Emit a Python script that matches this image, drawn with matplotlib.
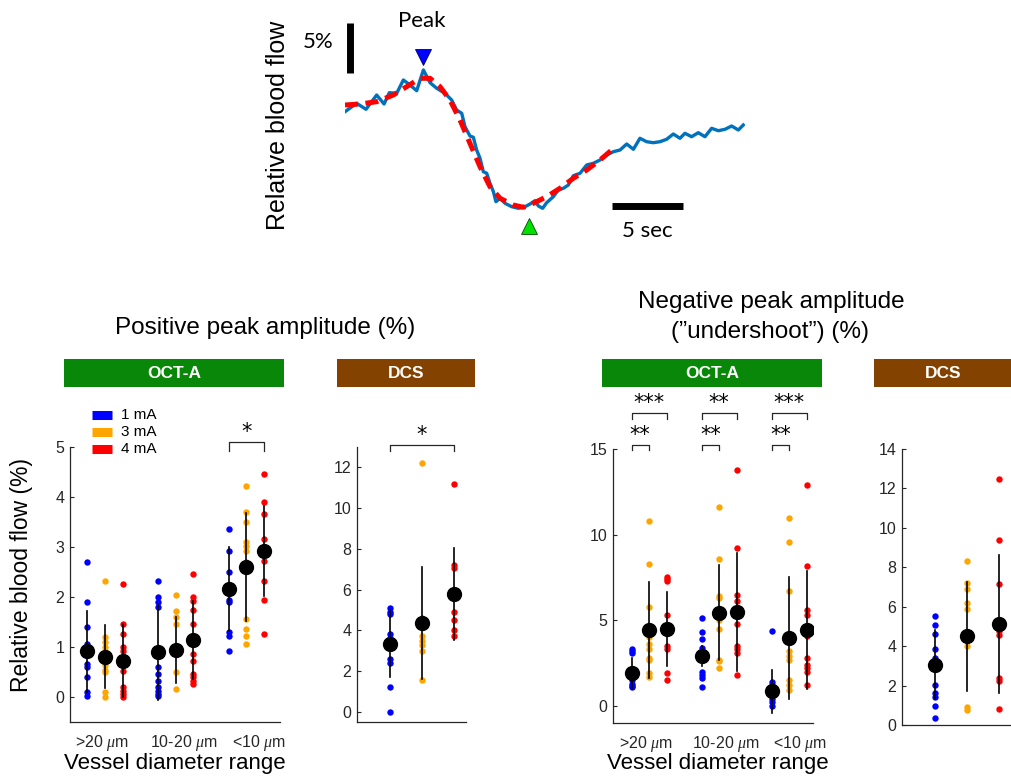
import numpy as np
import matplotlib
matplotlib.use("Agg")
import matplotlib.pyplot as plt
from matplotlib.patches import Rectangle
from matplotlib.lines import Line2D

# ------------------------------------------
# Data
# ------------------------------------------
# example time course (sec, % change)
trace_t = [0, 0.82, 1.48, 2.23, 2.75, 3.12, 3.64, 4.11, 4.58, 5.05, 5.52, 5.99, 6.46, 7.04,
           7.51, 7.86, 8.22, 8.45, 8.80, 9.04, 9.27, 9.51, 9.74, 9.98, 10.21, 10.45, 10.63,
           10.92, 11.27, 11.74, 12.21, 12.68, 13.03, 13.38, 13.62, 13.92, 14.20, 14.67, 15.02,
           15.38, 15.73, 16.08, 16.55, 17.02, 17.49, 17.96, 18.43, 18.90, 19.37, 19.84, 20.31,
           20.77, 21.24, 21.71, 22.18, 22.65, 23.12, 23.59, 23.94, 24.41, 24.88, 25.35, 25.82,
           26.29, 26.76, 27.23, 27.70, 28.05]
trace_flow = [-0.67, 0.17, -0.43, 1.0, 0.1, 1.23, 1.17, 2.5, 2.0, 1.43, 3.5, 2.23, 1.67, 1.17,
              0.5, -0.5, -0.83, -2.17, -3.1, -3.23, -4.5, -5.33, -6.67, -6.83, -7.83, -8.67, -9.67,
              -9.33, -9.83, -10.17, -10.33, -10.17, -9.9, -9.57, -10.1, -10.33, -9.77, -9.17, -8.5,
              -8.33, -8.0, -7.07, -6.83, -6.0, -5.83, -5.5, -5.0, -4.67, -4.5, -3.9, -4.43,
              -3.33, -3.67, -3.77, -3.67, -3.43, -2.9, -3.33, -2.83, -3.17, -2.77, -3.17, -2.33,
              -2.57, -2.43, -2.1, -2.5, -2.0]
fit_t = [0, 1.06, 2.23, 3.40, 4.34, 5.28, 5.99, 6.69, 7.39, 8.10, 8.80, 9.51, 10.21, 10.92,
         11.85, 12.56, 13.26, 14.20, 15.14, 16.08, 17.02, 17.96, 18.78]
fit_flow = [0, 0.1, 0.33, 1.0, 1.83, 2.67, 2.67, 1.83, 0.5, -1.5, -3.83, -6.17, -8.17, -9.33,
            -10.0, -10.23, -9.83, -9.17, -8.33, -7.33, -6.5, -5.5, -4.5]

currents = ["1 mA", "3 mA", "4 mA"]
colors = ["#0000FF", "#FFA500", "#FF0000"]
vessel_labels = [">20 $\\mu$m", "10-20 $\\mu$m", "<10 $\\mu$m"]

# positive peak, OCT-A: [current][vessel group]
pos_octa_pts = [
    [[2.7, 1.9, 1.4, 1.07, 1.0, 0.67, 0.6, 0.4, 0.1, 0.02],
     [2.33, 2.0, 1.9, 1.8, 0.6, 0.47, 0.33, 0.2, 0.13, 0.07, 0.02],
     [3.37, 2.93, 2.5, 1.95, 1.9, 1.3, 1.23, 0.93]],
    [[2.33, 1.2, 1.1, 1.0, 0.93, 0.65, 0.55, 0.5, 0.1, 0.0],
     [2.05, 1.73, 1.6, 1.47, 0.95, 0.5, 0.17],
     [4.23, 3.7, 3.5, 3.1, 3.03, 2.93, 2.7, 1.57, 1.37, 1.23, 1.07]],
    [[2.27, 1.47, 1.27, 1.0, 0.93, 0.53, 0.2, 0.13, 0.07, 0.0],
     [2.47, 2.0, 1.93, 1.75, 1.47, 0.87, 0.73, 0.47, 0.4, 0.33, 0.27],
     [4.47, 3.9, 3.67, 3.17, 2.93, 2.73, 2.33, 1.95, 1.27]],
]
pos_octa_mean = [[0.92, 0.9, 2.17], [0.81, 0.95, 2.6], [0.73, 1.15, 2.93]]
pos_octa_sd = [[0.81, 0.95, 0.84], [0.63, 0.66, 1.08], [0.73, 0.78, 0.9]]

# positive peak, DCS: [current]
pos_dcs_pts = [[5.1, 4.9, 4.8, 3.8, 3.6, 2.6, 2.4, 1.2, 0.0],
               [12.2, 4.6, 3.7, 3.5, 3.3, 3.0, 1.55],
               [11.2, 7.2, 7.05, 4.9, 4.5, 4.0, 3.7]]
pos_dcs_mean = [3.35, 4.35, 5.8]
pos_dcs_sd = [1.65, 2.75, 2.25]

# negative peak (undershoot), OCT-A: [current][vessel group]
neg_octa_pts = [
    [[3.3, 3.2, 3.1, 1.5, 1.3, 1.15, 1.1],
     [5.15, 4.3, 3.9, 3.4, 2.0, 1.8, 1.6, 1.1],
     [4.4, 1.4, 1.2, 0.9, 0.6, 0.4, 0.2, 0.0]],
    [[10.8, 8.3, 5.8, 4.0, 3.6, 3.3, 2.8, 2.7, 1.9, 1.7],
     [11.6, 8.6, 6.4, 6.3, 5.0, 4.5, 2.7, 2.6, 2.2],
     [11.0, 9.55, 6.7, 3.2, 2.9, 2.7, 1.5, 1.2, 0.9]],
    [[7.5, 7.4, 7.3, 5.3, 3.5, 3.3, 1.9, 1.5],
     [13.8, 9.2, 6.45, 6.1, 4.8, 3.5, 3.3, 3.1, 1.8],
     [12.9, 8.15, 5.6, 5.3, 4.1, 2.8, 2.4, 2.2, 2.0, 1.2]],
]
neg_octa_mean = [[1.9, 2.9, 0.85], [4.45, 5.45, 3.95], [4.5, 5.5, 4.45]]
neg_octa_sd = [[0.9, 0.6, 1.25], [2.8, 2.8, 3.55], [2.15, 3.45, 3.45]]

# negative peak, DCS: [current]
neg_dcs_pts = [[5.55, 5.05, 4.6, 3.85, 3.4, 2.05, 1.6, 1.4, 0.95, 0.35],
               [8.3, 7.2, 6.9, 6.2, 5.9, 4.0, 0.9, 0.75],
               [12.5, 9.4, 7.15, 4.75, 4.55, 2.4, 2.25, 0.8]]
neg_dcs_mean = [3.05, 4.5, 5.1]
neg_dcs_sd = [1.75, 2.75, 3.5]

# ------------------------------------------
# Figure setup
# ------------------------------------------
W, H = 1012, 779
plt.rcParams["font.family"] = ["Liberation Sans", "DejaVu Sans"]
plt.rcParams["mathtext.fontset"] = "custom"
plt.rcParams["mathtext.it"] = "Liberation Serif:italic"
plt.rcParams["mathtext.rm"] = "Liberation Sans"

fig = plt.figure(figsize=(W / 100, H / 100), dpi=100)
GRAY = "#262626"


def px_axes(x0, x1, y0, y1):
    return fig.add_axes([x0 / W, 1 - y1 / H, (x1 - x0) / W, (y1 - y0) / H])


def ftext(x, y, s, **kw):
    kw.setdefault("ha", "center")
    kw.setdefault("va", "center")
    return fig.text(x / W, 1 - y / H, s, **kw)


def style_axes(ax):
    for side in ["top", "right"]:
        ax.spines[side].set_visible(False)
    for side in ["left", "bottom"]:
        ax.spines[side].set_color(GRAY)
        ax.spines[side].set_linewidth(0.9)
    ax.tick_params(axis="y", direction="in", length=3, width=0.8, color=GRAY,
                   labelcolor=GRAY, labelsize=11.5, pad=4)
    ax.tick_params(axis="x", length=0, labelcolor=GRAY, labelsize=11.5, pad=8)


def draw_dots(ax, x, pts, mean, sd, color):
    ax.plot(np.full(len(pts), x), pts, "o", color=color, ms=4.6, mew=0, zorder=2,
            clip_on=False)
    ax.plot([x, x], [mean - sd, mean + sd], color="k", lw=1.2, zorder=3)
    ax.plot(x, mean, "o", color="k", ms=10, zorder=4)


def bracket(ax, x1, x2, y, leg, stars):
    ax.plot([x1, x1, x2, x2], [y - leg, y, y, y - leg], color=GRAY, lw=0.9,
            clip_on=False)
    ax.text((x1 + x2) / 2, y, stars, ha="center", va="bottom", fontsize=15,
            family="DejaVu Sans", color="k")


def header(x0, x1, label, color):
    fig.add_artist(Rectangle((x0 / W, 1 - 387 / H), (x1 - x0) / W, 28 / H,
                             transform=fig.transFigure, color=color, lw=0))
    ftext((x0 + x1) / 2, 373, label, color="white", fontsize=12.5, weight="bold")


# ------------------------------------------
# Example trace
# ------------------------------------------
ax0 = px_axes(345, 745, 15, 245)
ax0.plot(trace_t, trace_flow, color="#0072BD", lw=2.4, zorder=2)
ax0.plot(fit_t, fit_flow, color="#FF0000", lw=3.6, dashes=(2.6, 1.5), zorder=3)
i_pk = int(np.argmax(trace_flow))
ax0.plot(trace_t[i_pk], trace_flow[i_pk] + 1.3, "v", color="#0000FF", mec="#000066",
         mew=0.6, ms=12, zorder=4)
i_tr = int(np.argmin(fit_flow))
ax0.plot(fit_t[i_tr] + 0.4, fit_flow[i_tr] - 1.9, "^", color="#00E000", mec="#005000",
         mew=0.6, ms=12, zorder=4, clip_on=False)
ax0.plot([0.35, 0.35], [3.2, 8.2], color="k", lw=5, solid_capstyle="butt")
ax0.plot([18.8, 23.8], [-10.1, -10.1], color="k", lw=5, solid_capstyle="butt")
ax0.set_xlim(0, 28.17)
ax0.set_ylim(-14, 9)
ax0.axis("off")

ftext(278, 125, "Relative blood flow", rotation=90, fontsize=18)
ftext(318, 42, "5%", fontsize=16, family="Lato")
ftext(422, 21, "Peak", fontsize=16, family="Lato")
ftext(647, 231, "5 sec", fontsize=16, family="Lato")

# ------------------------------------------
# Positive peak, OCT-A
# ------------------------------------------
offsets = [-0.25, 0.0, 0.25]
ax1 = px_axes(70, 280, 447, 722)
for c in range(3):
    for g in range(3):
        draw_dots(ax1, g + 1 + offsets[c], pos_octa_pts[c][g], pos_octa_mean[c][g],
                  pos_octa_sd[c][g], colors[c])
ax1.set_xlim(0.503, 3.48)
ax1.set_ylim(-0.5, 5)
ax1.set_yticks([0, 1, 2, 3, 4, 5])
ax1.set_xticks([0.96, 2.12, 3.18])
ax1.set_xticklabels(vessel_labels)
style_axes(ax1)
bracket(ax1, 2.75, 3.25, 5.1, 0.18, "*")

# legend
for c in range(3):
    y = 415 + 17 * c
    fig.add_artist(Line2D([92 / W, 112 / W], [1 - y / H] * 2, lw=6.5, color=colors[c],
                          solid_capstyle="butt", transform=fig.transFigure))
    ftext(121, y, currents[c], ha="left", fontsize=11)

# ------------------------------------------
# Positive peak, DCS
# ------------------------------------------
ax2 = px_axes(357, 466, 447, 722)
for c in range(3):
    draw_dots(ax2, c + 1, pos_dcs_pts[c], pos_dcs_mean[c], pos_dcs_sd[c], colors[c])
ax2.set_xlim(-0.03, 3.375)
ax2.set_ylim(-0.5, 13)
ax2.set_yticks(range(0, 13, 2))
ax2.set_xticks([])
style_axes(ax2)
bracket(ax2, 1, 3, 13.1, 0.28, "*")

# ------------------------------------------
# Negative peak, OCT-A
# ------------------------------------------
ax3 = px_axes(613, 813, 449, 723)
for c in range(3):
    for g in range(3):
        draw_dots(ax3, g + 1 + offsets[c], neg_octa_pts[c][g], neg_octa_mean[c][g],
                  neg_octa_sd[c][g], colors[c])
ax3.set_xlim(0.486, 3.34)
ax3.set_ylim(-1, 15)
ax3.set_yticks([0, 5, 10, 15])
ax3.set_xticks([0.95, 2.1, 3.16])
ax3.set_xticklabels(vessel_labels)
style_axes(ax3)
for g in range(3):
    bracket(ax3, g + 0.75, g + 1.0, 15.25, 0.33, "**")
    bracket(ax3, g + 0.75, g + 1.25, 17.1, 0.35, "**" if g == 1 else "***")

# ------------------------------------------
# Negative peak, DCS
# ------------------------------------------
ax4 = px_axes(902, 1012, 449, 725)
for c in range(3):
    draw_dots(ax4, c + 1, neg_dcs_pts[c], neg_dcs_mean[c], neg_dcs_sd[c], colors[c])
ax4.set_xlim(-0.03, 3.4)
ax4.set_ylim(0, 14)
ax4.set_yticks(range(0, 15, 2))
ax4.set_xticks([])
style_axes(ax4)

# ------------------------------------------
# Headers, titles, labels
# ------------------------------------------
header(64, 284, "OCT-A", "#088708")
header(337, 475, "DCS", "#844200")
header(602, 822, "OCT-A", "#088708")
header(874, 1012, "DCS", "#844200")

ftext(265, 328, "Positive peak amplitude (%)", fontsize=17.5)
ftext(771, 302, "Negative peak amplitude", fontsize=17.5)
ftext(770, 332, "(\u201dundershoot\u201d) (%)", fontsize=17.5)

ftext(175, 763, "Vessel diameter range", fontsize=16)
ftext(718, 764, "Vessel diameter range", fontsize=16)
ftext(22, 575, "Relative blood flow (%)", rotation=90, fontsize=16.5)

fig.savefig("out.png", dpi=100)
